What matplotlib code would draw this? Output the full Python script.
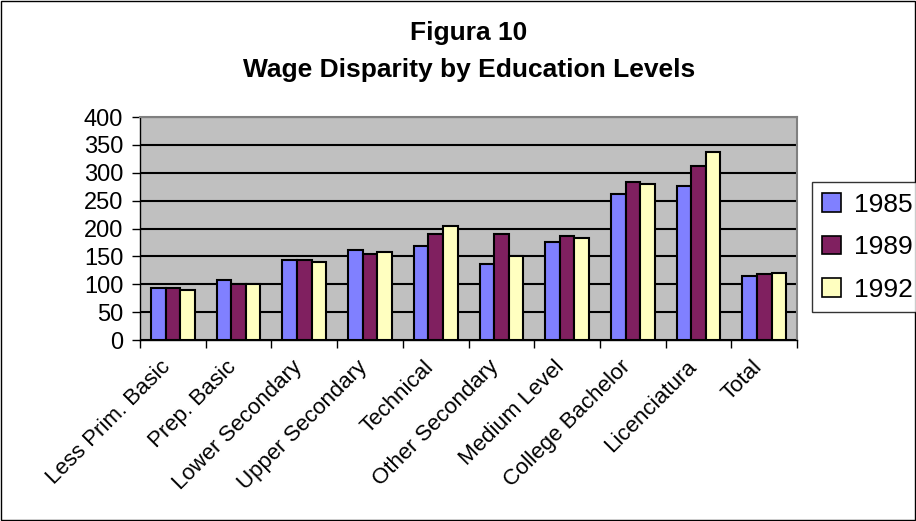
import numpy as np
import matplotlib
matplotlib.use("Agg")
import matplotlib.pyplot as plt
import matplotlib.transforms as mtransforms
from matplotlib.patches import Rectangle, Patch

plt.rcParams['font.family'] = ['Liberation Sans', 'DejaVu Sans']

# ===============================
# data
# ===============================
categories = ["Less Prim. Basic", "Prep. Basic", "Lower Secondary", "Upper Secondary",
              "Technical", "Other Secondary", "Medium Level", "College Bachelor",
              "Licenciatura", "Total"]
years = ["1985", "1989", "1992"]
v1985 = [93, 107, 144, 162, 169, 137, 176, 262, 277, 115]
v1989 = [93, 100, 144, 155, 190, 190, 187, 284, 313, 118]
v1992 = [89, 100, 140, 158, 205, 151, 183, 280, 338, 121]
colors = ["#8080FF", "#802060", "#FFFFC0"]

# ===============================
# figure
# ===============================
fig = plt.figure(figsize=(9.16, 5.21), dpi=100)
fig.patches.append(Rectangle((0.001, 0.002), 0.998, 0.996, transform=fig.transFigure,
                             fill=False, edgecolor="black", linewidth=1))

ax = fig.add_axes([0.1528, 0.3474, 0.7175, 0.428])
ax.set_facecolor("#C0C0C0")

x = np.arange(len(categories))
w = 0.222
for i, vals in enumerate([v1985, v1989, v1992]):
    ax.bar(x + (i - 1) * w, vals, width=w, color=colors[i], edgecolor="black",
           linewidth=1.5, zorder=3)

ax.set_xlim(-0.5, len(categories) - 0.5)
ax.set_ylim(0, 400)
ax.set_yticks(np.arange(0, 401, 50))
ax.yaxis.grid(True, color="black", linewidth=1.5, zorder=1)
ax.set_axisbelow(True)

ax.set_xticks(np.arange(len(categories) + 1) - 0.5, minor=False)
ax.set_xticklabels([])
ax.set_xticks(x, minor=True)
ax.set_xticklabels(categories, minor=True, rotation=45, ha="right", va="top",
                   rotation_mode="anchor", fontsize=16)
ax.tick_params(axis="x", which="minor", length=0, pad=12)
ax.tick_params(axis="x", which="major", length=6, width=1, direction="out")
ax.tick_params(axis="y", length=6, width=1, labelsize=17, pad=6)

# nudge the rotated labels to the left
shift = mtransforms.ScaledTranslation(-13 / 100, 0, fig.dpi_scale_trans)
for lab in ax.get_xticklabels(minor=True):
    lab.set_transform(lab.get_transform() + shift)

for s in ["top", "right"]:
    ax.spines[s].set_color("#808080")
    ax.spines[s].set_linewidth(1.5)
for s in ["left", "bottom"]:
    ax.spines[s].set_color("black")
    ax.spines[s].set_linewidth(1)

fig.text(0.512, 0.937, "Figura 10", ha="center", va="center", fontsize=19, fontweight="bold")
fig.text(0.512, 0.866, "Wage Disparity by Education Levels", ha="center", va="center",
         fontsize=19, fontweight="bold")

handles = [Patch(facecolor=c, edgecolor="black", linewidth=1.2) for c in colors]
leg = fig.legend(handles, years, loc="upper left", bbox_to_anchor=(0.886, 0.650),
                 fontsize=19, frameon=True, fancybox=False, handlelength=0.7,
                 handleheight=0.7, handletextpad=0.5, labelspacing=0.7,
                 borderpad=0.4, borderaxespad=0)
leg.get_frame().set_edgecolor("black")
leg.get_frame().set_linewidth(1)

fig.savefig("out.png", dpi=100)
